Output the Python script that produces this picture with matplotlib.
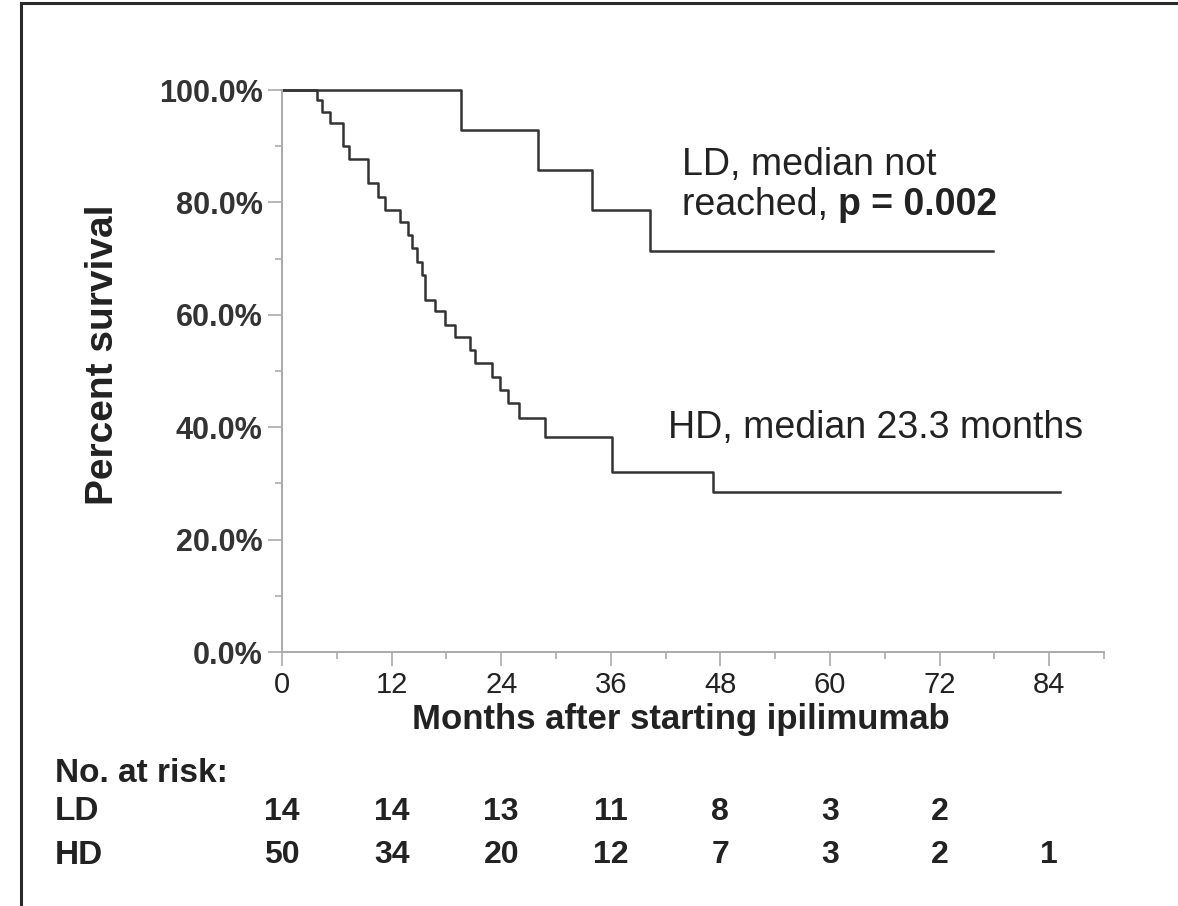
import matplotlib
matplotlib.use("Agg")
import matplotlib.pyplot as plt
from matplotlib.lines import Line2D
from matplotlib.ticker import MultipleLocator, FuncFormatter

# Kaplan-Meier kõverad (kuud, elulemus %)
ld_aeg = [0, 19.6, 28.0, 33.95, 40.3, 77.8]
ld_elu = [100, 92.9, 85.7, 78.6, 71.4, 71.4]

hd_aeg = [0, 3.8, 4.35, 5.26, 6.71, 7.37, 9.45, 10.55, 11.28, 12.92, 13.83, 14.21,
          14.75, 15.30, 15.66, 16.76, 17.85, 18.95, 20.59, 21.14, 22.97, 23.88,
          24.79, 25.99, 28.81, 36.11, 47.24, 85.2]
hd_elu = [100, 98.3, 96.1, 94.2, 90.0, 87.7, 83.4, 81.0, 78.6, 76.5, 74.2, 71.8,
          69.4, 67.1, 62.6, 60.6, 58.2, 56.1, 53.7, 51.4, 49.0, 46.6,
          44.3, 41.6, 38.3, 32.1, 28.5, 28.5]

# riskitabel
risk_kuud = [0, 12, 24, 36, 48, 60, 72, 84]
ld_riskis = [14, 14, 13, 11, 8, 3, 2]
hd_riskis = [50, 34, 20, 12, 7, 3, 2, 1]

W, H = 1178, 906
tava = ['Liberation Sans', 'DejaVu Sans']
plt.rcParams['font.family'] = tava

fig = plt.figure(figsize=(W / 100, H / 100), dpi=100)
ax = fig.add_axes([282 / W, 1 - 652 / H, (1104 - 282) / W, (652 - 90) / H])

joon = '#333333'
ax.step(ld_aeg, ld_elu, where='post', color=joon, lw=1.8, clip_on=False)
ax.step(hd_aeg, hd_elu, where='post', color=joon, lw=1.8, clip_on=False)

ax.set_xlim(0, 90)
ax.set_ylim(0, 100)
for s in ['top', 'right']:
    ax.spines[s].set_visible(False)
for s in ['left', 'bottom']:
    ax.spines[s].set_color('#aaaaaa')
    ax.spines[s].set_linewidth(1.4)

ax.xaxis.set_major_locator(MultipleLocator(12))
ax.xaxis.set_minor_locator(MultipleLocator(6))
ax.yaxis.set_major_locator(MultipleLocator(20))
ax.yaxis.set_minor_locator(MultipleLocator(10))
ax.yaxis.set_major_formatter(FuncFormatter(lambda v, p: f"{v:.1f}%"))
ax.tick_params(which='major', length=10, width=1.2, color='#aaaaaa', pad=4)
ax.tick_params(which='minor', length=5, width=1.2, color='#aaaaaa')
for t in ax.get_yticklabels():
    t.set_fontsize(22)
    t.set_fontweight('bold')
    t.set_color('#333333')
for t in ax.get_xticklabels():
    t.set_fontsize(21)
    t.set_color('#222222')

fig.text(103 / W, 1 - 355 / H, 'Percent survival', rotation=90, fontsize=28,
         fontweight='bold', ha='center', va='center', color='#222222')
fig.text(681 / W, 1 - 720 / H, 'Months after starting ipilimumab', fontsize=25,
         fontweight='bold', ha='center', va='center', color='#222222')

# märkused
fig.text(682 / W, 1 - 165 / H, 'LD, median not', fontsize=27, ha='left', va='center',
         color='#222222')
t1 = fig.text(682 / W, 1 - 205 / H, 'reached, ', fontsize=27, ha='left', va='center',
              color='#222222')
fig.canvas.draw()
bb = t1.get_window_extent()
fig.text(bb.x1 / W, 1 - 205 / H, 'p = 0.002', fontsize=27, fontweight='bold',
         ha='left', va='center', color='#222222')
fig.text(668 / W, 1 - 428 / H, 'HD, median 23.3 months', fontsize=27, ha='left',
         va='center', color='#222222')

# riskitabel
fig.text(55 / W, 1 - 773 / H, 'No. at risk:', fontsize=24, fontweight='bold',
         ha='left', va='center', color='#222222')
fig.text(55 / W, 1 - 812 / H, 'LD', fontsize=24, fontweight='bold',
         ha='left', va='center', color='#222222')
fig.text(55 / W, 1 - 855 / H, 'HD', fontsize=24, fontweight='bold',
         ha='left', va='center', color='#222222')
for rida, arvud in [(812, ld_riskis), (855, hd_riskis)]:
    for k, n in zip(risk_kuud, arvud):
        xf = ax.transData.transform((k, 0))[0] / W
        fig.text(xf, 1 - rida / H, str(n), fontsize=23, fontweight='bold',
                 ha='center', va='center', color='#222222')

# raam
fig.add_artist(Line2D([21 / W, 21 / W], [0, 1 - 3 / H], color='#2a2a2a', lw=2.2,
                      transform=fig.transFigure))
fig.add_artist(Line2D([21 / W, 1], [1 - 3 / H, 1 - 3 / H], color='#2a2a2a', lw=2.2,
                      transform=fig.transFigure))

fig.savefig('out.png', dpi=100)
